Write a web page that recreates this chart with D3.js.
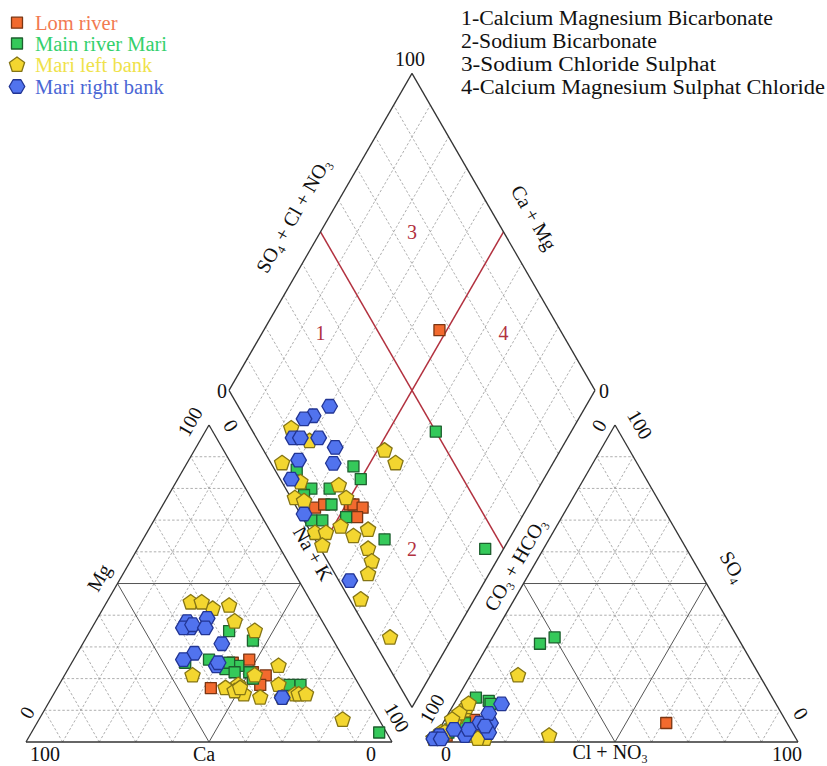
<!DOCTYPE html>
<html>
<head>
<meta charset="utf-8">
<script src="https://cdn.jsdelivr.net/npm/d3@7"></script>
<style>
  body { margin: 0; background: #fff; }
  text { font-family: "Liberation Serif", "Times New Roman", serif; }
</style>
</head>
<body>
<svg id="chart" width="827" height="766"></svg>
<script>
// ---- Sample composition, meq % ----
// cations: [Ca, Mg, Na+K]   anions: [CO3+HCO3, SO4, Cl+NO3]
const seriesNames = ["Lom river", "Main river Mari", "Mari left bank", "Mari right bank"];

const lomCations = [[26,26,48],[41,17,42],[31,25,44],[27,22,51],[28,20,52],[24,21,55],[27,18,55]];
const lomAnions  = [[33,6,61],[95,2,3],[92,4,4],[85,5,10],[84,6,10],[82,6,12],[85,7,8]];

const mainCations = [[19,18,63],[2,3,95],[44,25,31],[22,32,46],[28,22,50],[27,35,38],[34,23,43],
                     [30,24,46],[32,25,43],[32,22,46],[28,20,52],[16,18,66],[37,26,37]];
const mainAnions  = [[50,33,17],[55,31,14],[94,3,3],[78,13,9],[78,12,10],[93,4,3],[88,6,6],
                     [90,5,5],[98,1,1],[95,3,2],[88,6,6],[81,14,5],[96,2,2]];

const leftCations = [[33,44,23],[28,42,30],[30,44,26],[33,15,52],[19,24,57],[44,21,35],[24,38,38],
                     [20,35,45],[33,18,49],[37,17,46],[35,16,49],[27,21,52],[29,14,57],[22,18,60],
                     [33,17,50],[23,14,63],[19,15,66],[18,15,67],[16,15,69],[10,7,83],[23,43,34]];
const leftAnions  = [[89,8,3],[86,10,4],[97,2,1],[67,2,31],[66,21,13],[99,1,0],[97,2,1],
                     [85,11,4],[85,1,14],[99,1,0],[96,3,1],[91,6,3],[89,2,9],[84,12,4],
                     [99,1,0],[87,1,12],[88,9,3],[91,7,2],[97,2,1],[95,3,2],[95,3,2]];

const rightCations = [[31,39,30],[37,36,27],[37,38,25],[40,28,32],[39,36,25],[36,37,27],
                      [31,31,38],[36,24,40],[44,26,30],[33,36,31],[35,25,40],[23,14,63]];
const rightAnions  = [[75,12,13],[81,6,13],[84,6,10],[83,3,14],[90,2,8],[88,4,8],
                      [80,9,11],[83,5,12],[92,4,4],[97,2,1],[99,1,0],[97,1,2]];

const gridSteps = [10,20,30,40,50,60,70,80,90];
const facies = ["1-Calcium Magnesium Bicarbonate", "2-Sodium Bicarbonate",
                "3-Sodium Chloride Sulphat", "4-Calcium Magnesium Sulphat Chloride"];

// ---- styling per series ----
const styles = [
  {shape: "square",  fill: "#f26a2e", stroke: "#7a3512", text: "#f27a52"},
  {shape: "square",  fill: "#35c95a", stroke: "#1d5f2e", text: "#34d06c"},
  {shape: "pentagon",fill: "#f3d630", stroke: "#857515", text: "#efe24a"},
  {shape: "hexagon", fill: "#5173ee", stroke: "#223594", text: "#4a66d4"}
];
const series = [
  {cat: lomCations, an: lomAnions},
  {cat: mainCations, an: mainAnions},
  {cat: leftCations, an: leftAnions},
  {cat: rightCations, an: rightAnions}
];

// ---- layout ----
const SIDE = 366, GAP = 40, S3 = Math.sqrt(3) / 2;
const X0 = 26, BASE = 742;
const X1 = X0 + SIDE + GAP;
const BX = X0 + SIDE + GAP / 2, BY = BASE - GAP * S3;
const pct = d3.scaleLinear().domain([0, 100]).range([0, SIDE]);

const cationXY = ([ca, mg, na]) => [X0 + pct(na) + pct(mg) / 2, BASE - pct(mg) * S3];
const anionXY  = ([hc, so4, cl]) => [X1 + pct(cl) + pct(so4) / 2, BASE - pct(so4) * S3];
const diamondXY = (cm, sc) => [BX - pct(cm) / 2 + pct(sc) / 2, BY - (pct(cm) + pct(sc)) * S3];

const svg = d3.select("#chart");
const line = d3.line();

const gGrid = svg.append("g");
function seg(p, q, cls) {
  const s = gGrid.append("path").attr("d", line([p, q])).attr("fill", "none");
  if (cls === "dash") s.attr("stroke", "#9a9a9a").attr("stroke-width", 0.8).attr("stroke-dasharray", "2.5,2");
  else if (cls === "mid") s.attr("stroke", "#555").attr("stroke-width", 1);
  else if (cls === "red") s.attr("stroke", "#b2313f").attr("stroke-width", 1.5);
  else s.attr("stroke", "#333").attr("stroke-width", 1.3);
}

// triangle grids: dashed every 10 %, solid at 50 %
function triGrid(toXY) {
  gridSteps.forEach(k => {
    const c = k === 50 ? "mid" : "dash";
    seg(toXY([100 - k, k, 0]), toXY([0, k, 100 - k]), c);
    seg(toXY([100 - k, 0, k]), toXY([0, 100 - k, k]), c);
    seg(toXY([k, 0, 100 - k]), toXY([k, 100 - k, 0]), c);
  });
  const a = toXY([100, 0, 0]), b = toXY([0, 0, 100]), t = toXY([0, 100, 0]);
  seg(a, b, "edge"); seg(b, t, "edge"); seg(t, a, "edge");
}
triGrid(cationXY);
triGrid(anionXY);

// diamond grid with the two facies dividers
gridSteps.forEach(k => {
  if (k === 50) return;
  seg(diamondXY(k, 0), diamondXY(k, 100), "dash");
  seg(diamondXY(0, k), diamondXY(100, k), "dash");
});
seg(diamondXY(50, 0), diamondXY(50, 100), "red");
seg(diamondXY(0, 50), diamondXY(100, 50), "red");
seg(diamondXY(0, 0), diamondXY(100, 0), "edge");
seg(diamondXY(100, 0), diamondXY(100, 100), "edge");
seg(diamondXY(100, 100), diamondXY(0, 100), "edge");
seg(diamondXY(0, 100), diamondXY(0, 0), "edge");

// facies numbers
const faciesPos = [[84, 34, "1"], [25, 25, "2"], [75, 75, "3"], [34, 84, "4"]];
faciesPos.forEach(([cm, sc, t]) => {
  const [x, y] = diamondXY(cm, sc);
  svg.append("text").attr("x", x).attr("y", y + 7).attr("text-anchor", "middle")
    .attr("font-size", 20).attr("fill", "#b2313f").text(t);
});

// ---- markers ----
function polygon(n, r, rot) {
  const pts = d3.range(n).map(i => {
    const a = rot + i * 2 * Math.PI / n;
    return [r * Math.cos(a), r * Math.sin(a)];
  });
  return "M" + pts.map(p => p.join(",")).join("L") + "Z";
}
const shapePath = {
  square: "M-5.5,-5.5L5.5,-5.5L5.5,5.5L-5.5,5.5Z",
  pentagon: polygon(5, 8, -Math.PI / 2),
  hexagon: polygon(6, 7.8, 0)
};
function marker(g, x, y, st) {
  g.append("path").attr("d", shapePath[st.shape]).attr("transform", `translate(${x},${y})`)
    .attr("fill", st.fill).attr("stroke", st.stroke).attr("stroke-width", 1.3)
    .attr("stroke-linejoin", "round");
}

const gPts = svg.append("g");
series.forEach((s, i) => {
  const st = styles[i];
  s.cat.forEach(c => { const [x, y] = cationXY(c); marker(gPts, x, y, st); });
  s.an.forEach(a => { const [x, y] = anionXY(a); marker(gPts, x, y, st); });
  s.cat.forEach((c, j) => {
    const a = s.an[j];
    const [x, y] = diamondXY(c[0] + c[1], a[1] + a[2]);
    marker(gPts, x, y, st);
  });
});

// ---- axis labels (plain strings, or {t, sub} for subscripts) ----
function label(x, y, rot, parts, size = 20) {
  const t = svg.append("text").attr("font-size", size).attr("text-anchor", "middle")
    .attr("fill", "#111")
    .attr("transform", `translate(${x},${y}) rotate(${rot})`);
  let shifted = 0;
  parts.forEach(p => {
    const isSub = typeof p !== "string";
    const span = t.append("tspan").text(isSub ? p.t : p);
    const target = isSub ? 4 : 0;
    if (target !== shifted) span.attr("dy", target - shifted);
    shifted = target;
    if (isSub) span.attr("font-size", size * 0.6);
  });
  return t;
}
const sub = (t) => ({t});

// cation triangle
label(45, 761, 0, ["100"]);
label(204, 761, 0, ["Ca"]);
label(371, 761, 0, ["0"]);
label(33, 716, -60, ["0"]);
label(105, 581, -60, ["Mg"]);
label(196, 425, -60, ["100"]);
label(225, 429, 60, ["0"]);
label(307, 557, 60, ["Na + K"]);
label(391, 721, 60, ["100"]);

// anion triangle
label(446, 761, 0, ["0"]);
label(610, 759, 0, ["Cl + NO", sub("3")]);
label(787, 761, 0, ["100"]);
label(438, 712, -60, ["100"]);
label(605, 429, -60, ["0"]);
label(634, 428, 60, ["100"]);
label(727, 570, 60, ["SO", sub("4")]);
label(795, 717, 60, ["0"]);
label(521, 568, -60, ["CO", sub("3"), " + HCO", sub("3")]);

// diamond
label(410, 66, 0, ["100"]);
label(222, 398, 0, ["0"]);
label(604, 398, 0, ["0"]);
label(299, 219, -60, ["SO", sub("4"), " + Cl + NO", sub("3")]);
label(528, 221, 60, ["Ca + Mg"]);

// ---- legends ----
const legY = [22.7, 43.5, 65, 86.5];
seriesNames.forEach((n, i) => {
  marker(svg, 17, legY[i], styles[i]);
  svg.append("text").attr("x", 35).attr("y", legY[i] + 7).attr("font-size", 20.5)
    .attr("fill", styles[i].text).text(n);
});
const facY = [25, 48, 71, 94];
const facWidths = [312, 196, 255, 364];
facies.forEach((f, i) => {
  svg.append("text").attr("x", 461).attr("y", facY[i]).attr("font-size", 20.5)
    .attr("fill", "#111").attr("textLength", facWidths[i])
    .attr("lengthAdjust", "spacingAndGlyphs").text(f);
});
</script>
</body>
</html>
